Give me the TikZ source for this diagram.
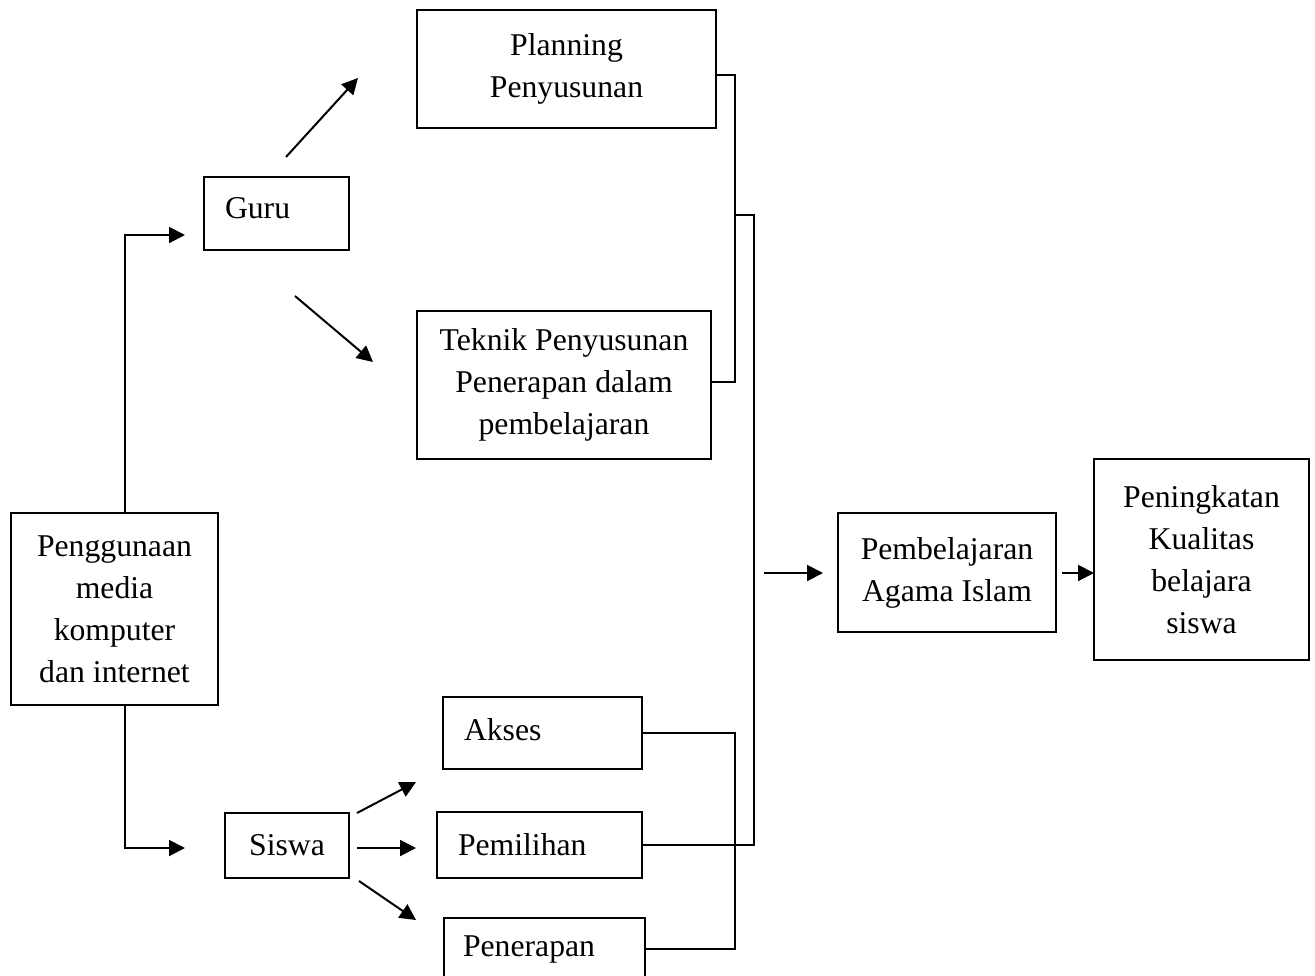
\documentclass[tikz,border=0pt]{standalone}
\usepackage{fontspec}
\setmainfont{Liberation Serif}
\usetikzlibrary{arrows.meta,calc}
\begin{document}
\begin{tikzpicture}[x=1pt,y=-1pt,
  every node/.style={font=\fontsize{31.7}{42}\selectfont},
  box/.style={draw,line width=1.8pt,inner sep=0pt,outer sep=0pt,align=center},
  lbox/.style={draw,line width=1.8pt,inner xsep=21pt,inner ysep=0pt,outer sep=0pt,align=left},
  ln/.style={line width=2pt},
  arr/.style={line width=2pt,-{Triangle[length=16pt,width=16pt]}}]
\useasboundingbox (0,0) rectangle (1315,975);
% boxes
\node[box,minimum width=207pt,minimum height=192pt] (pg) at (114.5,609) {Penggunaan\\media\\komputer\\dan internet};
\node[lbox,text width=103pt,minimum height=73pt,text depth=10pt] (guru) at (276.5,213.5) {Guru};
\node[box,minimum width=299pt,minimum height=118pt] (plan) at (566.5,69) {Planning\\Penyusunan};
\node[box,minimum width=294pt,minimum height=148pt] (tek) at (564,385) {Teknik Penyusunan\\Penerapan dalam\\pembelajaran};
\node[box,minimum width=218pt,minimum height=119pt] (pemb) at (947,572.5) {Pembelajaran\\Agama Islam};
\node[box,minimum width=215pt,minimum height=201pt] (pen) at (1201.5,559.5) {Peningkatan\\Kualitas\\belajara\\siswa};
\node[box,minimum width=124pt,minimum height=65pt] (siswa) at (287,845.5) {Siswa};
\node[lbox,text width=157pt,minimum height=72pt,text depth=8pt] (akses) at (542.5,733) {Akses};
\node[lbox,text width=163pt,minimum height=66pt] (pemil) at (539.5,845) {Pemilihan};
\node[lbox,text width=163pt,minimum height=62pt,inner xsep=19pt] (pener) at (544.5,949) {Penerapan};
% free ends
\coordinate (gtip) at (185,235);
\coordinate (stip) at (185,848);
\coordinate (g1s) at (286,157); \coordinate (g1e) at (358,78);
\coordinate (g2s) at (295,296); \coordinate (g2e) at (373,362);
\coordinate (s1s) at (357,813); \coordinate (s1e) at (416,782);
\coordinate (s2s) at (357,848); \coordinate (s2e) at (416,848);
\coordinate (s3s) at (359,881); \coordinate (s3e) at (416,920);
\coordinate (j1) at (735,215);
\coordinate (pin) at (764,573);
% connectors
\draw[arr] ($(pg.north)+(10.5,0)$) |- (gtip);
\draw[arr] ($(pg.south)+(10.5,0)$) |- (stip);
\draw[arr] (g1s) -- (g1e);
\draw[arr] (g2s) -- (g2e);
\draw[arr] (s1s) -- (s1e);
\draw[arr] (s2s) -- (s2e);
\draw[arr] (s3s) -- (s3e);
\draw[ln] ($(plan.east)+(0,6)$) -- ++(19,0) |- ($(tek.east)+(0,-3)$);
\draw[ln] (j1) -- ++(19,0) |- (pemil.east);
\draw[ln] (akses.east) -- ++(93,0) |- (pener.east);
\draw[arr,shorten >=15pt] (pin) -- (pemb.west |- pin);
\draw[arr,shorten <=6pt] (pemb.east |- pin) -- (pen.west |- pin);
\end{tikzpicture}
\end{document}
